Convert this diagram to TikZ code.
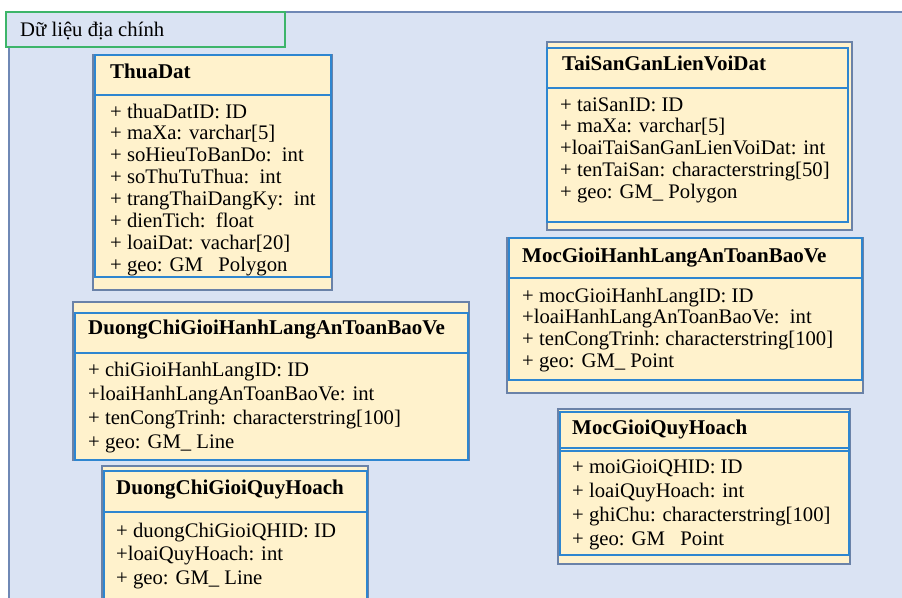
\documentclass[tikz,border=0pt]{standalone}
\usepackage{fontspec}
\setmainfont{Liberation Serif}
\definecolor{framefill}{HTML}{DAE3F3}
\definecolor{frameline}{HTML}{6F88B5}
\definecolor{tabline}{HTML}{3DB56A}
\definecolor{boxfill}{HTML}{FFF2CC}
\definecolor{outerline}{HTML}{6A82A8}
\definecolor{innerline}{HTML}{2E86D0}
\begin{document}
\begin{tikzpicture}[x=1pt,y=-1pt,
  outerbox/.style={draw=outerline, line width=1.6pt, fill=boxfill},
  innerbox/.style={draw=innerline, line width=1.4pt},
  sepline/.style={draw=innerline, line width=1.4pt},
  titletext/.style={anchor=base west, inner sep=0pt, font=\fontsize{21}{23}\selectfont\bfseries},
  attrtext/.style={anchor=base west, inner sep=0pt, font=\fontsize{20.7}{22}\selectfont}]
\useasboundingbox (0,0) rectangle (902,597);
\begin{scope}
  \clip (0,0) rectangle (902,597);
  \fill[framefill] (9,12) rectangle (920,620);
  \draw[frameline, line width=1.5pt] (9,620) -- (9,12) -- (920,12);
\end{scope}
% package tab
\draw[draw=tabline, fill=framefill, line width=1.3pt] (6,12) rectangle (285,47);
\node[attrtext] (tablabel) at (20,36) {Dữ liệu địa chính};

% ThuaDat
\draw[outerbox] (93,55) rectangle (332,290);
\draw[innerbox] (95,55) rectangle (331,277);
\draw[sepline] (95,95) -- (331,95);
\node[titletext] (tdtitle) at (110,78) {ThuaDat};
\foreach \t [count=\i from 0] in {{+ thuaDatID: ID},{+ maXa: varchar[5]},{+ soHieuToBanDo:\ \ int},{+ soThuTuThua:\ \ int},{+ trangThaiDangKy:\ \ int},{+ dienTich:\ \ float},{+ loaiDat: vachar[20]},{+ geo: GM\phantom{\_} Polygon}}
  \node[attrtext] (td\i) at (110,118+21.9*\i) {\t};

% TaiSanGanLienVoiDat
\draw[outerbox] (547,42) rectangle (852,230);
\draw[innerbox] (547,48) rectangle (848,222);
\draw[sepline] (547,88) -- (848,88);
\node[titletext] (tstitle) at (562,70) {TaiSanGanLienVoiDat};
\foreach \t [count=\i from 0] in {{+ taiSanID: ID},{+ maXa: varchar[5]},{+loaiTaiSanGanLienVoiDat: int},{+ tenTaiSan: characterstring[50]},{+ geo: GM\_ Polygon}}
  \node[attrtext] (ts\i) at (560,111+21.8*\i) {\t};

% MocGioiHanhLangAnToanBaoVe
\draw[outerbox] (507,238) rectangle (863,393);
\draw[innerbox] (509,238) rectangle (862,380);
\draw[sepline] (509,278) -- (862,278);
\node[titletext] (mhtitle) at (522,262) {MocGioiHanhLangAnToanBaoVe};
\foreach \t [count=\i from 0] in {{+ mocGioiHanhLangID: ID},{+loaiHanhLangAnToanBaoVe:\ \ int},{+ tenCongTrinh:\ characterstring[100]},{+ geo: GM\_ Point}}
  \node[attrtext] (mh\i) at (522,302+21.7*\i) {\t};

% DuongChiGioiHanhLangAnToanBaoVe
\draw[outerbox] (73,302) rectangle (469,460);
\draw[innerbox] (75,313) rectangle (468,460);
\draw[sepline] (75,353) -- (468,353);
\node[titletext] (dhtitle) at (88,334) {DuongChiGioiHanhLangAnToanBaoVe};
\foreach \t [count=\i from 0] in {{+ chiGioiHanhLangID: ID},{+loaiHanhLangAnToanBaoVe: int},{+ tenCongTrinh: characterstring[100]},{+ geo: GM\_ Line}}
  \node[attrtext] (dh\i) at (88,376+24*\i) {\t};

% DuongChiGioiQuyHoach
\begin{scope}
  \clip (0,0) rectangle (902,597);
  \draw[outerbox] (102,466) rectangle (368,620);
  \draw[innerbox] (104,471) rectangle (367,620);
\end{scope}
\draw[sepline] (104,512) -- (367,512);
\node[titletext] (dqtitle) at (116,494) {DuongChiGioiQuyHoach};
\foreach \t [count=\i from 0] in {{+ duongChiGioiQHID: ID},{+loaiQuyHoach: int},{+ geo: GM\_ Line}}
  \node[attrtext] (dq\i) at (116,537+23.8*\i) {\t};

% MocGioiQuyHoach
\draw[outerbox] (558,409) rectangle (850,564);
\draw[innerbox] (560,412) rectangle (849,555);
\draw[sepline] (560,448) -- (849,448);
\draw[sepline] (560,451) -- (849,451);
\node[titletext] (mqtitle) at (572,434) {MocGioiQuyHoach};
\foreach \t [count=\i from 0] in {{+ moiGioiQHID: ID},{+ loaiQuyHoach: int},{+ ghiChu: characterstring[100]},{+ geo: GM\phantom{\_} Point}}
  \node[attrtext] (mq\i) at (572,473+24*\i) {\t};
\end{tikzpicture}
\end{document}
